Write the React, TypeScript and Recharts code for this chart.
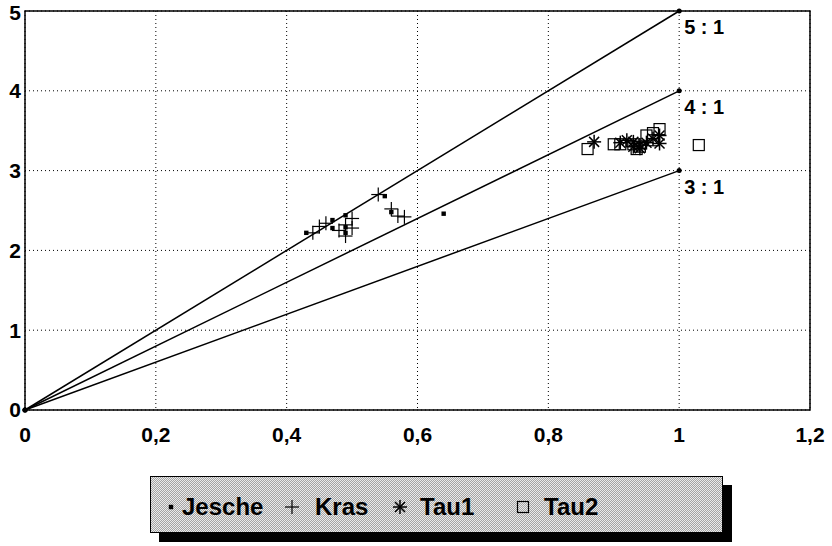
import React from 'react';
import { ScatterChart, Scatter, XAxis, YAxis, CartesianGrid, ReferenceArea } from 'recharts';

document.body.style.margin = '0';

const FONT = '"Liberation Sans", Arial, sans-serif';

const xTicks = [0, 0.2, 0.4, 0.6, 0.8, 1, 1.2];
const yTicks = [0, 1, 2, 3, 4, 5];
const ratios = [5, 4, 3];

const jesche = [
    { x: 0.43, y: 2.22 }, { x: 0.47, y: 2.28 }, { x: 0.47, y: 2.38 }, { x: 0.49, y: 2.44 },
    { x: 0.49, y: 2.29 }, { x: 0.49, y: 2.22 }, { x: 0.55, y: 2.68 }, { x: 0.56, y: 2.48 },
    { x: 0.64, y: 2.46 },
];
const kras = [
    { x: 0.44, y: 2.22 }, { x: 0.45, y: 2.3 }, { x: 0.46, y: 2.34 }, { x: 0.48, y: 2.25 },
    { x: 0.49, y: 2.18 }, { x: 0.49, y: 2.32 }, { x: 0.5, y: 2.4 }, { x: 0.5, y: 2.28 },
    { x: 0.54, y: 2.7 }, { x: 0.56, y: 2.52 }, { x: 0.57, y: 2.43 }, { x: 0.58, y: 2.42 },
];
const tau1 = [
    { x: 0.87, y: 3.36 }, { x: 0.91, y: 3.35 }, { x: 0.92, y: 3.38 }, { x: 0.93, y: 3.36 },
    { x: 0.94, y: 3.32 }, { x: 0.94, y: 3.28 }, { x: 0.95, y: 3.35 }, { x: 0.96, y: 3.4 },
    { x: 0.97, y: 3.44 }, { x: 0.97, y: 3.34 }, { x: 0.93, y: 3.3 },
];
const tau2 = [
    { x: 0.86, y: 3.27 }, { x: 0.9, y: 3.33 }, { x: 0.91, y: 3.33 }, { x: 0.93, y: 3.33 },
    { x: 0.935, y: 3.27 }, { x: 0.94, y: 3.3 }, { x: 0.95, y: 3.44 }, { x: 0.96, y: 3.47 },
    { x: 0.97, y: 3.52 }, { x: 0.96, y: 3.38 }, { x: 1.03, y: 3.32 },
];

const ratioLines = ratios.map((r) => [
    { x: 0, y: 0 },
    { x: 1, y: r, label: `${r} : 1` },
]);

const fmt = (v: number) => String(v).replace('.', ',');

const SquareDot = ({ cx, cy }: any) => <rect x={cx - 2.2} y={cy - 2.2} width={4.4} height={4.4} fill="#000" />;
const Plus = ({ cx, cy }: any) => (
    <g stroke="#000" strokeWidth={1.2}>
        <line x1={cx - 7} x2={cx + 7} y1={cy} y2={cy} />
        <line x1={cx} x2={cx} y1={cy - 7} y2={cy + 7} />
    </g>
);
const Star = ({ cx, cy }: any) => (
    <g stroke="#000" strokeWidth={1.5}>
        <line x1={cx - 7} x2={cx + 7} y1={cy} y2={cy} />
        <line x1={cx} x2={cx} y1={cy - 7} y2={cy + 7} />
        <line x1={cx - 5} x2={cx + 5} y1={cy - 5} y2={cy + 5} />
        <line x1={cx - 5} x2={cx + 5} y1={cy + 5} y2={cy - 5} />
    </g>
);
const OpenSquare = ({ cx, cy }: any) => (
    <rect x={cx - 5.5} y={cy - 5.5} width={11} height={11} fill="none" stroke="#000" strokeWidth={1.2} />
);
const LineEnd = ({ cx, cy, payload }: any) => (
    <g>
        <circle cx={cx} cy={cy} r={2.5} fill="#000" />
        {payload?.label && (
            <text x={cx + 5} y={cy + 23} fontFamily={FONT} fontWeight="bold" fontSize={20} fill="#000">
                {payload.label}
            </text>
        )}
    </g>
);

const legendItems = [
    { name: 'Jesche', sym: 20, txt: 31, Shape: SquareDot },
    { name: 'Kras', sym: 141, txt: 164, Shape: Plus },
    { name: 'Tau1', sym: 249, txt: 269, Shape: Star },
    { name: 'Tau2', sym: 372, txt: 393, Shape: OpenSquare },
];

const tickStyle = { fill: '#000', fontSize: 21, fontWeight: 'bold', fontFamily: FONT };

export default function App() {
    return (
        <div style={{ position: 'relative', width: 832, height: 546, background: '#fff' }}>
            <ScatterChart width={832} height={546} margin={{ top: 11, right: 22, left: 0, bottom: 96 }}>
                <CartesianGrid stroke="#000" strokeDasharray="1 3" xAxisId={1} yAxisId={1} />
                {/* inward tick marks */}
                <XAxis xAxisId={0} type="number" dataKey="x" domain={[0, 1.2]} ticks={xTicks} mirror height={0}
                    axisLine={false} tickSize={8} tickLine={{ stroke: '#000' }} tick={() => null} />
                <YAxis yAxisId={0} type="number" dataKey="y" domain={[0, 5]} ticks={yTicks} mirror width={0}
                    axisLine={false} tickSize={8} tickLine={{ stroke: '#000' }} tick={() => null} />
                <XAxis xAxisId={1} type="number" dataKey="x" domain={[0, 1.2]} ticks={xTicks} height={40}
                    tickFormatter={fmt} tickSize={0} tickMargin={17} axisLine={false} tick={tickStyle} />
                <YAxis yAxisId={1} type="number" dataKey="y" domain={[0, 5]} ticks={yTicks} width={25}
                    tickSize={0} tickMargin={4} axisLine={false} tick={tickStyle} />
                <ReferenceArea xAxisId={1} yAxisId={1} x1={0} x2={1.2} y1={0} y2={5} fill="none"
                    fillOpacity={0} stroke="#000" strokeWidth={1.5} ifOverflow="visible" />
                {ratioLines.map((d, i) => (
                    <Scatter key={i} xAxisId={1} yAxisId={1} data={d} line={{ stroke: '#000', strokeWidth: 1.5 }}
                        lineType="joint" shape={LineEnd} isAnimationActive={false} />
                ))}
                <Scatter name="Jesche" xAxisId={1} yAxisId={1} data={jesche} shape={SquareDot} isAnimationActive={false} />
                <Scatter name="Kras" xAxisId={1} yAxisId={1} data={kras} shape={Plus} isAnimationActive={false} />
                <Scatter name="Tau1" xAxisId={1} yAxisId={1} data={tau1} shape={Star} isAnimationActive={false} />
                <Scatter name="Tau2" xAxisId={1} yAxisId={1} data={tau2} shape={OpenSquare} isAnimationActive={false} />
            </ScatterChart>
            <div
                style={{
                    position: 'absolute', left: 150, top: 476, width: 571, height: 55,
                    border: '1px solid #000', boxShadow: '9px 9px 0 #000',
                    background: 'repeating-conic-gradient(#a4a4a4 0 25%, #ebebeb 0 50%) 0 0 / 2px 2px',
                    fontFamily: FONT, fontWeight: 'bold', fontSize: 24,
                }}
            >
                {legendItems.map(({ name, sym, txt, Shape }) => (
                    <React.Fragment key={name}>
                        <svg width={20} height={20} style={{ position: 'absolute', left: sym - 10, top: 20 }}>
                            <Shape cx={10} cy={10} />
                        </svg>
                        <span style={{ position: 'absolute', left: txt, top: 16, lineHeight: '28px' }}>{name}</span>
                    </React.Fragment>
                ))}
            </div>
        </div>
    );
}
